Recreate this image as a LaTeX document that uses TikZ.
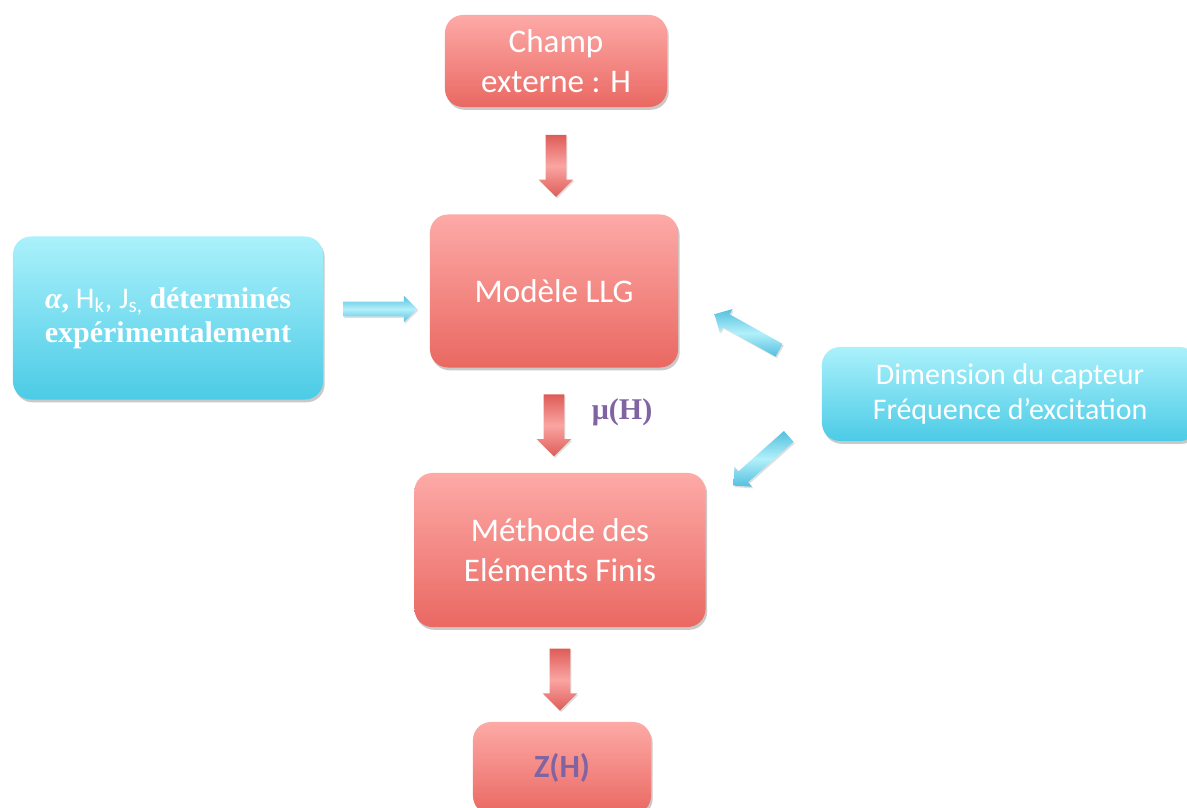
\documentclass[tikz,border=0pt]{standalone}
\usepackage{fontspec}
\setmainfont{Carlito}
\newfontfamily\timesfont{Liberation Serif}
\usetikzlibrary{shapes.arrows,shadows}
\definecolor{redtop}{RGB}{253,170,167}
\definecolor{redbot}{RGB}{234,104,98}
\definecolor{bluetop}{RGB}{170,241,251}
\definecolor{bluebot}{RGB}{76,203,230}
\definecolor{redlight}{RGB}{250,165,162}
\definecolor{reddark}{RGB}{222,92,88}
\definecolor{bluelight}{RGB}{178,240,250}
\definecolor{bluedark}{RGB}{84,192,222}
\definecolor{labelpurple}{RGB}{128,100,162}
\tikzset{
  boxshadow/.style={drop shadow={shadow xshift=0.04cm, shadow yshift=-0.07cm, opacity=0.3, fill=black!70}},
  redbox/.style={rounded corners=0.45cm, top color=redtop, bottom color=redbot, draw=none,
    text=white, align=center, boxshadow, font=\fontsize{23.5}{28.4}\selectfont},
  bluebox/.style={rounded corners=0.45cm, top color=bluetop, bottom color=bluebot, draw=none,
    text=white, align=center, boxshadow, font=\fontsize{21.3}{24.2}\selectfont},
  redarrow/.style={single arrow, draw=none, inner xsep=0pt, inner ysep=0.25cm, minimum height=1.55cm,
    single arrow head extend=0.175cm, sloped, allow upside down,
    top color=reddark, bottom color=reddark, middle color=redlight,
    drop shadow={shadow xshift=0.03cm, shadow yshift=-0.04cm, opacity=0.25}},
  bluearrow/.style={single arrow, draw=none, inner xsep=0pt, inner ysep=0.175cm, minimum height=1.85cm,
    single arrow head extend=0.15cm, sloped, allow upside down,
    top color=bluedark, bottom color=bluedark, middle color=bluelight,
    drop shadow={shadow xshift=0.03cm, shadow yshift=-0.04cm, opacity=0.25}},
}
\begin{document}
\begin{tikzpicture}[x=0.025cm, y=-0.025cm]
    \useasboundingbox (0,0) rectangle (1187,807);
    \clip (0,0) rectangle (1187,807);
    % Boxes
    \node[redbox, minimum width=5.55cm, minimum height=2.3cm] (champ) at (556,61) {Champ\\externe : H};
    \node[redbox, minimum width=6.2cm, minimum height=3.825cm] (llg) at (554,291) {Modèle LLG};
    \node[redbox, minimum width=7.275cm, minimum height=3.85cm] (fem) at (560,550) {Méthode des\\Eléments Finis};
    \node[redbox, minimum width=4.45cm, minimum height=2.3cm, text=labelpurple,
      font=\fontsize{23}{27}\selectfont\bfseries] (zh) at (562,768) {Z(H)};
    \node[bluebox, minimum width=7.75cm, minimum height=4.075cm] (params) at (168,318)
      {{\timesfont\bfseries\itshape α}{\timesfont\bfseries,} H\textsubscript{k}, J\textsubscript{s,} {\timesfont\bfseries déterminés}\\
       {\timesfont\bfseries expérimentalement}};
    \node[bluebox, minimum width=9.4cm, minimum height=2.35cm] (capteur) at (1010,394)
      {Dimension du capteur\\Fréquence d’excitation};
    % Arrows
    \path (champ.south) -- (champ.south |- llg.north) node[midway, redarrow] {};
    \path (llg.south) -- (llg.south |- fem.north) node[midway, redarrow] {};
    \path (fem.south) -- (fem.south |- zh.north) node[midway, redarrow] {};
    \path ([yshift=0.225cm]params.east) -- ([yshift=0.225cm]params.east -| llg.west)
      node[midway, bluearrow] {};
    \path ([yshift=0.5cm]capteur.west) -- ([yshift=-0.075cm]llg.east) node[midway, bluearrow] {};
    \path ([yshift=-0.33cm]capteur.west) -- ([yshift=1cm]fem.east) node[midway, bluearrow] {};
    % Label
    \node[text=labelpurple, font=\fontsize{21.4}{24}\selectfont\timesfont\bfseries] (mu) at (622,412) {μ(H)};
\end{tikzpicture}
\end{document}
